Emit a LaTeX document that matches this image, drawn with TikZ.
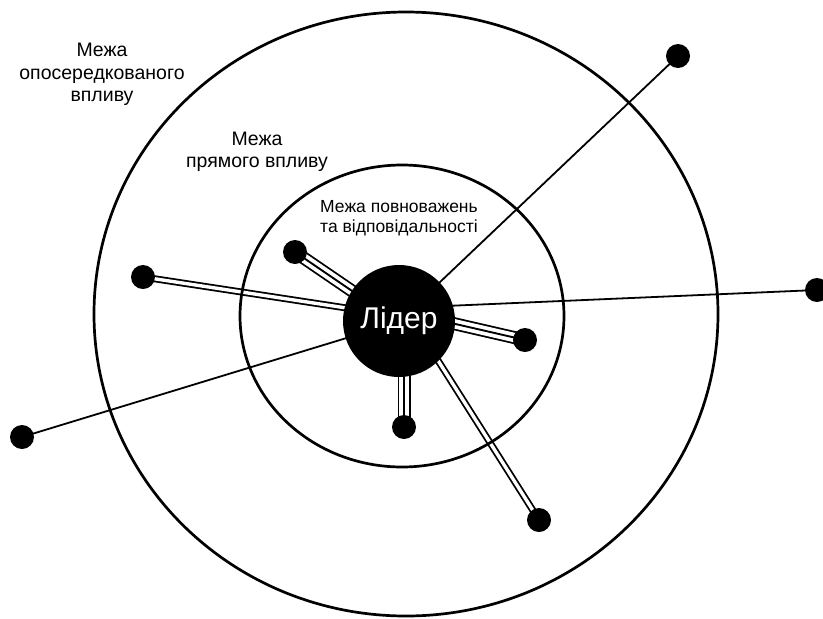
\documentclass[tikz,border=0pt]{standalone}
\usepackage{fontspec}
\setmainfont{Liberation Sans}
\usetikzlibrary{backgrounds}
\begin{document}
\begin{tikzpicture}[x=1pt,y=-1pt,
  bound/.style={line width=2.7pt},
  sat/.style={circle,fill=black,inner sep=0pt,minimum size=24pt},
  single/.style={line width=1.8pt},
  dbl/.style={line width=7pt, postaction={draw=white,line width=3.4pt}},
  tpl/.style={line width=13pt, postaction={draw=white,line width=9.4pt}, postaction={draw=black,line width=1.9pt}},
  lbl/.style={align=center, inner sep=0pt, anchor=north}]
\useasboundingbox (0,0) rectangle (823,619);
% boundaries
\draw[bound] (406,314) ellipse [x radius=312pt, y radius=302pt];
\draw[bound] (402,316) ellipse [x radius=162pt, y radius=151pt];
% leader and satellites
\node[circle,fill=black,inner sep=0pt,minimum size=112pt,text=white,font=\fontsize{30}{32}\selectfont] (L) at (399,321) {Лідер};
\node[sat] (A) at (678,56) {};
\node[sat] (B) at (817,290) {};
\node[sat] (C) at (143,277) {};
\node[sat] (D) at (22,437) {};
\node[sat] (E) at (295,252) {};
\node[sat] (F) at (525,340) {};
\node[sat] (G) at (404,427) {};
\node[sat] (H) at (539,520) {};
\coordinate (hB) at (399,308);
\coordinate (hC) at (399,316);
\coordinate (hD) at (399,322);
\coordinate (hE) at (399,323);
\coordinate (hF) at (399,311);
\coordinate (hG) at (404,321);
\coordinate (hH) at (413,321);
\begin{pgfonlayer}{background}
\fill[white] (0,0) rectangle (823,619);
\draw[single] (L.center) -- (A.center);
\draw[single] (hB) -- (B.center);
\draw[single] (hD) -- (D.center);
\draw[dbl] (hC) -- (C.center);
\draw[dbl] (hH) -- (H.center);
\draw[tpl] (hE) -- (E.center);
\draw[tpl] (hF) -- (F.center);
\draw[tpl] (hG) -- (G.center);
\end{pgfonlayer}
% labels
\node[lbl,font=\fontsize{19.5}{22.5}\selectfont] (t1) at (102,43) {Межа\\опосередкованого\\впливу};
\node[lbl,font=\fontsize{19.5}{22}\selectfont] (t2) at (257,132) {Межа\\прямого впливу};
\node[lbl,font=\fontsize{17.5}{20}\selectfont] (t3) at (399,200) {Межа повноважень\\та відповідальності};
\end{tikzpicture}
\end{document}
